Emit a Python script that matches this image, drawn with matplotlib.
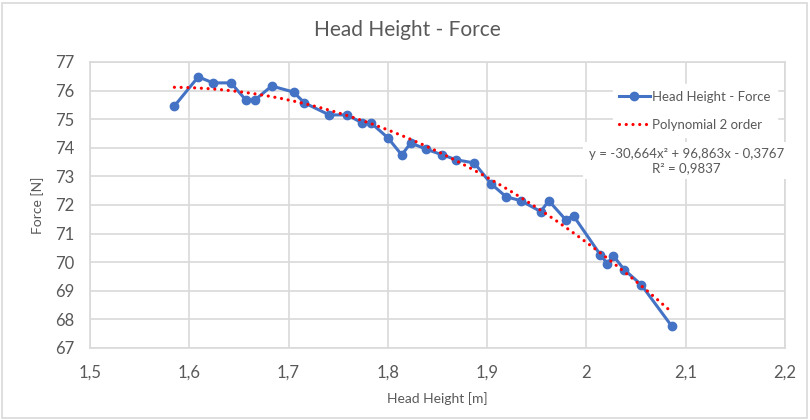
import matplotlib
matplotlib.use("Agg")
import matplotlib.pyplot as plt
import numpy as np
from matplotlib.patches import Rectangle

# measured head height [m] and force [N]
head_height = [1.585, 1.609, 1.624, 1.642, 1.657, 1.666, 1.683, 1.705, 1.716,
               1.741, 1.759, 1.774, 1.783, 1.800, 1.814, 1.823, 1.838, 1.855,
               1.869, 1.887, 1.904, 1.919, 1.934, 1.954, 1.962, 1.979, 1.987,
               2.014, 2.021, 2.027, 2.038, 2.055, 2.086]
force = [75.46, 76.48, 76.27, 76.27, 75.67, 75.67, 76.16, 75.95, 75.57,
         75.15, 75.15, 74.87, 74.87, 74.35, 73.75, 74.17, 73.96, 73.75,
         73.58, 73.47, 72.74, 72.29, 72.15, 71.77, 72.15, 71.49, 71.62,
         70.26, 69.95, 70.23, 69.74, 69.22, 67.76]

# 2nd order trendline coefficients
coef = [-30.664, 96.863, -0.3767]
r2 = 0.9837

xticks = [1.5, 1.6, 1.7, 1.8, 1.9, 2.0, 2.1, 2.2]
xtick_labels = ["1,5", "1,6", "1,7", "1,8", "1,9", "2", "2,1", "2,2"]
yticks = [67, 68, 69, 70, 71, 72, 73, 74, 75, 76, 77]

GRAY = "#595959"
GRID = "#d9d9d9"
BLUE = "#4472C4"

def main():
    plt.rcParams['font.family'] = ['Lato', 'DejaVu Sans']

    fig = plt.figure(figsize=(8.1, 4.2), dpi=100)
    ax = fig.add_axes([90 / 810, 72 / 420, 695 / 810, 286 / 420])

    # outer chart border
    fig.patches.append(Rectangle((2 / 810, 2 / 420), 805 / 810, 415 / 420,
                                 transform=fig.transFigure, fill=False,
                                 edgecolor=GRID, linewidth=1.2))

    ax.plot(head_height, force, color=BLUE, linewidth=2.2, marker="o",
            markersize=6, label="Head Height - Force", zorder=3)

    xs = np.linspace(min(head_height), max(head_height), 200)
    ax.plot(xs, np.polyval(coef, xs), color="red", linewidth=2.3,
            linestyle=(0, (0.01, 2.1)), dash_capstyle="round",
            label="Polynomial 2 order", zorder=4)

    ax.set_xlim(1.5, 2.2)
    ax.set_ylim(67, 77)
    ax.set_xticks(xticks)
    ax.set_xticklabels(xtick_labels)
    ax.set_yticks(yticks)
    ax.tick_params(length=0, labelsize=12, labelcolor=GRAY)
    ax.tick_params(axis="x", pad=12)
    ax.tick_params(axis="y", pad=11)
    ax.grid(True, color=GRID, linewidth=1.2)
    ax.set_axisbelow(True)
    for s in ax.spines.values():
        s.set_color(GRID)
        s.set_linewidth(1.2)

    ax.set_xlabel("Head Height [m]", fontsize=10, color=GRAY, labelpad=8)
    ax.set_ylabel("Force [N]", fontsize=10, color=GRAY, labelpad=8)
    fig.text(0.503, 0.928, "Head Height - Force", fontsize=15, color=GRAY,
             ha="center", va="center")

    # trendline equation box
    eq = "y = -30,664x² + 96,863x - 0,3767\nR² = %s" % str(r2).replace(".", ",")
    ax.text(0.858, 0.655, eq, transform=ax.transAxes, fontsize=9.5,
            color=GRAY, ha="center", va="center", linespacing=1.2,
            bbox=dict(facecolor="white", edgecolor="none", pad=4), zorder=5)

    leg = ax.legend(loc="upper right", bbox_to_anchor=(0.9985, 0.945),
                    frameon=True, fancybox=False, fontsize=9.5,
                    handlelength=2.3, borderpad=0.5, labelspacing=1.2,
                    handletextpad=0.2)
    leg.set_zorder(6)
    leg.get_frame().set_facecolor("white")
    leg.get_frame().set_edgecolor("white")
    leg.get_frame().set_alpha(1)
    for t in leg.get_texts():
        t.set_color(GRAY)

    fig.savefig("out.png", dpi=100)

if __name__ == "__main__":
    main()
